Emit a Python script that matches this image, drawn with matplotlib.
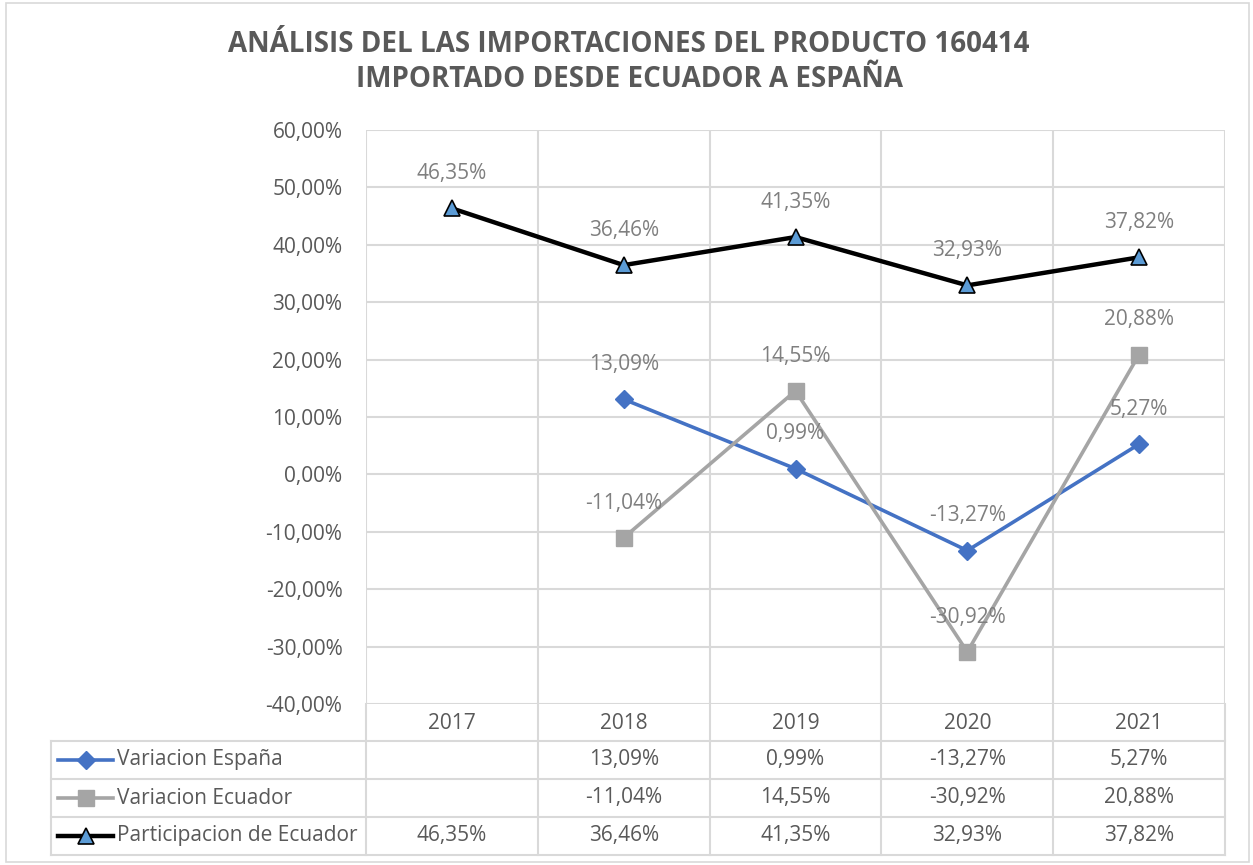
import matplotlib.pyplot as plt
from matplotlib.lines import Line2D
from matplotlib.patches import Rectangle
import numpy as np

plt.rcParams['font.family'] = ['Open Sans', 'DejaVu Sans']

years = ['2017', '2018', '2019', '2020', '2021']
var_espana = [np.nan, 13.09, 0.99, -13.27, 5.27]
var_ecuador = [np.nan, -11.04, 14.55, -30.92, 20.88]
part_ecuador = [46.35, 36.46, 41.35, 32.93, 37.82]
series_names = ['Variacion España', 'Variacion Ecuador', 'Participacion de Ecuador']
y_ticks = [-40, -30, -20, -10, 0, 10, 20, 30, 40, 50, 60]

title = 'ANÁLISIS DEL LAS IMPORTACIONES DEL PRODUCTO 160414\nIMPORTADO DESDE ECUADOR A ESPAÑA'

W, H = 1253, 865
grid_c = '#D9D9D9'
text_c = '#595959'
label_c = '#7F7F7F'
fs = 15


def pct(v):
    return f'{v:.2f}%'.replace('.', ',')


def main():
    fig = plt.figure(figsize=(W / 100, H / 100), dpi=100)

    # plot area in pixels
    left, right, top, bottom = 366, 1225, 130, 704
    ax = fig.add_axes([left / W, 1 - bottom / H, (right - left) / W, (bottom - top) / H])
    ax.set_xlim(-0.5, len(years) - 0.5)
    ax.set_ylim(-40, 60)
    ax.set_yticks(y_ticks, labels=[pct(t) for t in y_ticks])
    ax.set_xticks([])
    ax.tick_params(axis='y', length=0, pad=17, labelsize=fs, labelcolor=text_c)
    for s in ax.spines.values():
        s.set_visible(False)
    for t in y_ticks:
        ax.axhline(t, color=grid_c, lw=1.5, zorder=0)
    for b in np.arange(len(years) + 1) - 0.5:
        ax.axvline(b, color=grid_c, lw=1.5, zorder=0)

    x = np.arange(len(years))
    styles = [
        dict(color='#4472C4', lw=2.6, marker='D', ms=9, mfc='#4472C4', mec='#4472C4'),
        dict(color='#A5A5A5', lw=2.6, marker='s', ms=11, mfc='#A5A5A5', mec='#A5A5A5'),
        dict(color='black', lw=3.2, marker='^', ms=11, mfc='#5B9BD5', mec='black', mew=1.2),
    ]
    all_series = [var_espana, var_ecuador, part_ecuador]
    for vals, st in zip(all_series, styles):
        ax.plot(x, vals, zorder=3, clip_on=False, **st)
        for xi, v in zip(x, vals):
            if np.isnan(v):
                continue
            ax.annotate(pct(v), (xi, v), xytext=(0, 25), textcoords='offset points',
                        ha='center', va='center', fontsize=fs, color=label_c, zorder=4)

    # data table below the plot, in pixel coordinates
    tax = fig.add_axes([0, 0, 1, 1])
    tax.set_xlim(0, W)
    tax.set_ylim(H, 0)
    tax.axis('off')
    col_edges = np.linspace(left, right, len(years) + 1)
    col_mid = (col_edges[:-1] + col_edges[1:]) / 2
    row_edges = [704, 741, 779, 817, 855]
    tab_left = 51
    for xe in col_edges:
        tax.plot([xe, xe], [row_edges[0], row_edges[-1]], color=grid_c, lw=1.5)
    tax.plot([tab_left, tab_left], [row_edges[1], row_edges[-1]], color=grid_c, lw=1.5)
    for ye in row_edges[1:]:
        tax.plot([tab_left, right], [ye, ye], color=grid_c, lw=1.5)
    for cx, yr in zip(col_mid, years):
        tax.text(cx, (row_edges[0] + row_edges[1]) / 2 + 1, yr, ha='center', va='center',
                 fontsize=fs, color=text_c)
    for r, (vals, st, name) in enumerate(zip(all_series, styles, series_names)):
        yc = (row_edges[r + 1] + row_edges[r + 2]) / 2
        tax.add_line(Line2D([58, 113], [yc, yc], color=st['color'], lw=st['lw']))
        tax.add_line(Line2D([85.5], [yc], marker=st['marker'], ms=st['ms'],
                            mfc=st['mfc'], mec=st['mec'], mew=st.get('mew', 1)))
        tax.text(117, yc, name, ha='left', va='center', fontsize=fs, color=text_c)
        for cx, v in zip(col_mid, vals):
            if not np.isnan(v):
                tax.text(cx, yc, pct(v), ha='center', va='center', fontsize=fs, color=text_c)

    # chart border
    tax.add_patch(Rectangle((6, 3), W - 10, H - 6, fill=False, ec=grid_c, lw=1.2))

    fig.text(629 / W, 1 - 62 / H, title, ha='center', va='center', fontsize=20,
             fontweight='bold', color=text_c, linespacing=1.25)

    fig.savefig('out.png', dpi=100)
    plt.close(fig)


if __name__ == '__main__':
    main()
